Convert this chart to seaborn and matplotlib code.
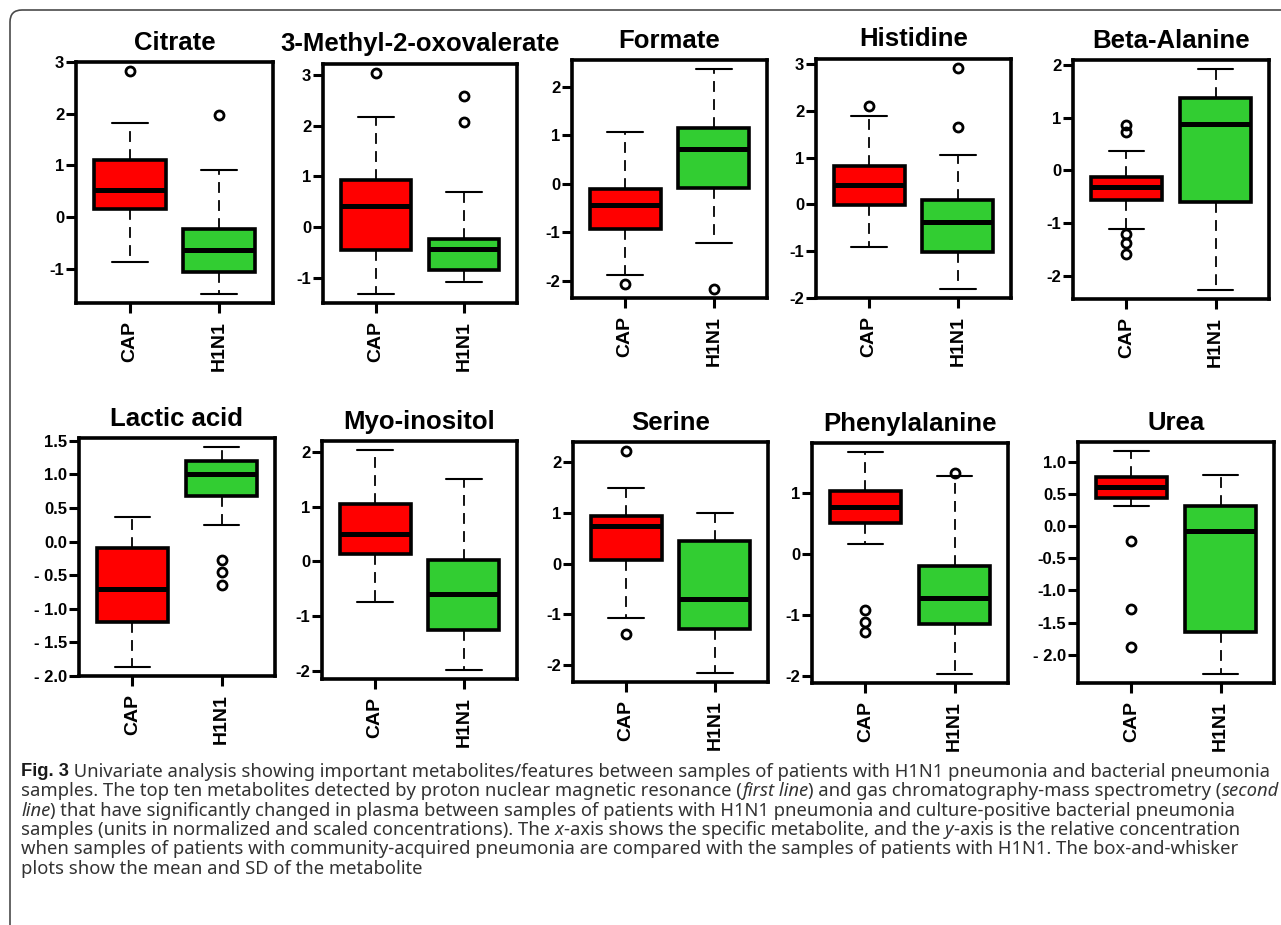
import numpy as np
import matplotlib
matplotlib.use("Agg")
import matplotlib.pyplot as plt
from matplotlib.patches import FancyBboxPatch
import seaborn as sns

# Figure size in pixels
W, H = 1281, 925

# Metabolite names (first row NMR, second row GC-MS)
metabolites = ["Citrate", "3-Methyl-2-oxovalerate", "Formate", "Histidine", "Beta-Alanine",
               "Lactic acid", "Myo-inositol", "Serine", "Phenylalanine", "Urea"]
groups = ["CAP", "H1N1"]
group_colors = ["#FF0000", "#32CD32"]

# Box statistics: [whislo, q1, median, q3, whishi]
cap_stats = [
    [-0.86, 0.15, 0.53, 1.10, 1.82],
    [-1.32, -0.45, 0.42, 0.93, 2.18],
    [-1.88, -0.93, -0.44, -0.10, 1.07],
    [-0.91, -0.01, 0.41, 0.82, 1.90],
    [-1.11, -0.56, -0.32, -0.13, 0.36],
    [-1.86, -1.20, -0.70, -0.09, 0.36],
    [-0.75, 0.13, 0.50, 1.05, 2.04],
    [-1.08, 0.07, 0.74, 0.94, 1.49],
    [0.16, 0.52, 0.78, 1.04, 1.68],
    [0.31, 0.44, 0.61, 0.77, 1.17],
]
h1n1_stats = [
    [-1.49, -1.06, -0.63, -0.23, 0.91],
    [-1.09, -0.85, -0.44, -0.23, 0.69],
    [-1.21, -0.09, 0.72, 1.16, 2.37],
    [-1.81, -1.02, -0.37, 0.09, 1.06],
    [-2.26, -0.59, 0.88, 1.37, 1.92],
    [0.25, 0.68, 1.00, 1.20, 1.41],
    [-1.99, -1.25, -0.60, 0.02, 1.50],
    [-2.16, -1.30, -0.69, 0.44, 1.00],
    [-1.97, -1.14, -0.72, -0.19, 1.29],
    [-2.30, -1.64, -0.07, 0.32, 0.79],
]
# Outliers
cap_fliers = [
    [2.83], [3.04], [-2.07], [2.11], [0.85, 0.72, -1.20, -1.36, -1.58],
    [], [], [2.22, -1.38], [-0.92, -1.11, -1.28], [-0.23, -1.29, -1.88],
]
h1n1_fliers = [
    [1.97], [2.58, 2.08], [-2.17], [2.92, 1.65], [],
    [-0.27, -0.45, -0.64], [], [], [1.33], [],
]

# y ticks and their labels per panel
yticks = [
    [-1, 0, 1, 2, 3],
    [-1, 0, 1, 2, 3],
    [-2, -1, 0, 1, 2],
    [-2, -1, 0, 1, 2, 3],
    [-2, -1, 0, 1, 2],
    [-2.0, -1.5, -1.0, -0.5, 0.0, 0.5, 1.0, 1.5],
    [-2, -1, 0, 1, 2],
    [-2, -1, 0, 1, 2],
    [-2, -1, 0, 1],
    [-2.0, -1.5, -1.0, -0.5, 0.0, 0.5, 1.0],
]
ytick_labels = [
    ["-1", "0", "1", "2", "3"],
    ["-1", "0", "1", "2", "3"],
    ["-2", "-1", "0", "1", "2"],
    ["-2", "-1", "0", "1", "2", "3"],
    ["-2", "-1", "0", "1", "2"],
    ["- 2.0", "- 1.5", "- 1.0", "- 0.5", "0.0", "0.5", "1.0", "1.5"],
    ["-2", "-1", "0", "1", "2"],
    ["-2", "-1", "0", "1", "2"],
    ["-2", "-1", "0", "1"],
    ["- 2.0", "-1.5", "-1.0", "-0.5", "0.0", "0.5", "1.0"],
]

# Axes boxes in pixels: left, right, top, bottom
panel_px = [
    (76, 273, 62, 303), (323, 517, 64, 303), (572, 767, 60, 298),
    (816, 1011, 59, 298), (1073, 1269, 60, 299),
    (79, 275, 438, 676), (322, 517, 441, 679), (573, 768, 442, 682),
    (812, 1008, 443, 683), (1078, 1274, 442, 683),
]

caption_lines = [
    [("Fig. 3", "bold"), (" Univariate analysis showing important metabolites/features between samples of patients with H1N1 pneumonia and bacterial pneumonia", "normal")],
    [("samples. The top ten metabolites detected by proton nuclear magnetic resonance (", "normal"), ("first line", "italic"),
     (") and gas chromatography-mass spectrometry (", "normal"), ("second", "italic")],
    [("line", "italic"), (") that have significantly changed in plasma between samples of patients with H1N1 pneumonia and culture-positive bacterial pneumonia", "normal")],
    [("samples (units in normalized and scaled concentrations). The ", "normal"), ("x", "italic"),
     ("-axis shows the specific metabolite, and the ", "normal"), ("y", "italic"), ("-axis is the relative concentration", "normal")],
    [("when samples of patients with community-acquired pneumonia are compared with the samples of patients with H1N1. The box-and-whisker", "normal")],
    [("plots show the mean and SD of the metabolite", "normal")],
]

sns.set_theme(style="white")
plt.rcParams["font.family"] = ["Liberation Sans", "DejaVu Sans"]

fig = plt.figure(figsize=(W / 100, H / 100), dpi=100)

# outer rounded frame (runs off the right and bottom edges)
frame = FancyBboxPatch((0.1, -0.5), 13.5, 9.65, boxstyle="round,pad=0,rounding_size=0.12",
                       transform=fig.dpi_scale_trans, facecolor="none", edgecolor="#4a4a4a",
                       linewidth=1.2, zorder=0)
fig.patches.append(frame)

for i, name in enumerate(metabolites):
    l, r, t, b = panel_px[i]
    ax = fig.add_axes([l / W, 1 - b / H, (r - l) / W, (b - t) / H])
    stats = []
    for s, fl, g in zip([cap_stats[i], h1n1_stats[i]], [cap_fliers[i], h1n1_fliers[i]], groups):
        stats.append(dict(whislo=s[0], q1=s[1], med=s[2], q3=s[3], whishi=s[4],
                          fliers=np.array(fl), label=g))
    parts = ax.bxp(stats, positions=[1, 2], widths=0.8, patch_artist=True,
                   boxprops=dict(edgecolor="black", linewidth=2.6),
                   medianprops=dict(color="black", linewidth=3.6, solid_capstyle="butt"),
                   whiskerprops=dict(color="black", linewidth=1.3, linestyle=(0, (6, 4))),
                   capprops=dict(color="black", linewidth=1.5),
                   flierprops=dict(marker="o", markerfacecolor="none", markeredgecolor="black",
                                   markersize=6.5, markeredgewidth=2.0))
    for box, c in zip(parts["boxes"], group_colors):
        box.set_facecolor(c)

    # R-style 4% padding of the data range
    vals = np.concatenate([cap_stats[i], h1n1_stats[i], cap_fliers[i], h1n1_fliers[i]])
    lo, hi = vals.min(), vals.max()
    pad = 0.04 * (hi - lo)
    ax.set_ylim(lo - pad, hi + pad)
    ax.set_xlim(0.4, 2.6)

    ax.set_yticks(yticks[i])
    ax.set_yticklabels(ytick_labels[i], fontsize=12, fontweight="bold")
    ax.set_xticks([1, 2])
    ax.set_xticklabels(groups, fontsize=14, fontweight="bold", rotation=90)
    ax.tick_params(axis="both", direction="out", length=7, width=2.2, colors="black",
                   left=True, bottom=True)
    ax.tick_params(axis="y", pad=1.5)
    ax.tick_params(axis="x", pad=6)
    for sp in ax.spines.values():
        sp.set_linewidth(2.6)
        sp.set_color("black")
    ax.set_title(name, fontsize=18.5, fontweight="bold", pad=9, color="black")

# caption with mixed bold / italic runs
renderer = fig.canvas.get_renderer()
cap_color = "#333333"


def seg_font(style):
    if style == "bold":
        return dict(family=["Liberation Sans", "DejaVu Sans"], fontweight="bold", fontstyle="normal")
    return dict(family=["Noto Sans", "Liberation Sans", "DejaVu Sans"], fontweight="normal",
                fontstyle="italic" if style == "italic" else "normal")


def text_width(s, style, size):
    t1 = fig.text(0, 0, "x" + s + "x", fontsize=size, **seg_font(style))
    t2 = fig.text(0, 0, "xx", fontsize=size, **seg_font(style))
    wd = t1.get_window_extent(renderer).width - t2.get_window_extent(renderer).width
    t1.remove()
    t2.remove()
    return wd


# fit the first caption line to the width it takes in the reference
base = 10.0
w1 = sum(text_width(s, st, base) for s, st in caption_lines[0])
cap_size = base * 1247 / w1

line_y = [772, 791.5, 810.5, 830, 849, 868.5]
for segs, y in zip(caption_lines, line_y):
    x = 21
    for s, style in segs:
        fig.text(x / W, 1 - y / H, s, fontsize=cap_size,
                 color=cap_color if style != "bold" else "#1a1a1a",
                 va="center", ha="left", **seg_font(style))
        x += text_width(s, style, cap_size)

fig.savefig("out.png", dpi=100)
